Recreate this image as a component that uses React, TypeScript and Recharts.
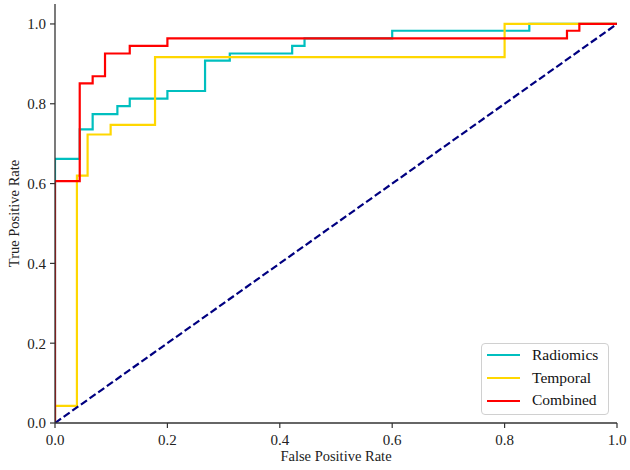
import React from 'react';
import { LineChart, Line, XAxis, YAxis, Legend } from 'recharts';

// ROC curve points (false positive rate, true positive rate)
const radiomicsFpr = [0, 0, 0.044, 0.044, 0.067, 0.067, 0.111, 0.111, 0.133, 0.133, 0.2, 0.2, 0.267, 0.267, 0.311, 0.311, 0.422, 0.422, 0.444, 0.444, 0.6, 0.6, 0.844, 0.844, 1.0];
const radiomicsTpr = [0, 0.662, 0.662, 0.736, 0.736, 0.774, 0.774, 0.794, 0.794, 0.813, 0.813, 0.832, 0.832, 0.908, 0.908, 0.926, 0.926, 0.945, 0.945, 0.964, 0.964, 0.983, 0.983, 1.0, 1.0];

const temporalFpr = [0, 0, 0.039, 0.039, 0.058, 0.058, 0.099, 0.099, 0.178, 0.178, 0.8, 0.8, 1.0];
const temporalTpr = [0, 0.043, 0.043, 0.62, 0.62, 0.723, 0.723, 0.747, 0.747, 0.917, 0.917, 1.0, 1.0];

const combinedFpr = [0, 0, 0.044, 0.044, 0.067, 0.067, 0.089, 0.089, 0.133, 0.133, 0.2, 0.2, 0.911, 0.911, 0.933, 0.933, 1.0];
const combinedTpr = [0, 0.606, 0.606, 0.851, 0.851, 0.869, 0.869, 0.926, 0.926, 0.945, 0.945, 0.964, 0.964, 0.983, 0.983, 1.0, 1.0];

const chanceFpr = [0, 1];
const chanceTpr = [0, 1];

const seriesNames = ['Radiomics', 'Temporal', 'Combined'];
const tickValues = [0, 0.2, 0.4, 0.6, 0.8, 1.0];

const zip = (xs: number[], ys: number[]) => xs.map((x, i) => ({ x, y: ys[i] }));

const radiomicsData = zip(radiomicsFpr, radiomicsTpr);
const temporalData = zip(temporalFpr, temporalTpr);
const combinedData = zip(combinedFpr, combinedTpr);
const chanceData = zip(chanceFpr, chanceTpr);

const FONT = "'Liberation Serif', 'Times New Roman', serif";
const AX = '#333333';

const LegendBox = (props: any) => {
  const payload = props.payload || [];
  const items = seriesNames
    .map((n) => payload.find((p: any) => p.value === n))
    .filter(Boolean);
  return (
    <div
      style={{
        width: 128,
        height: 72,
        boxSizing: 'border-box',
        border: '1px solid #d0d0d0',
        borderRadius: 4,
        background: 'rgba(255,255,255,0.85)',
        fontFamily: FONT,
        fontSize: 15.5,
        color: '#111',
      }}
    >
      {items.map((it: any) => (
        <div key={it.value} style={{ height: 22.7, display: 'flex', alignItems: 'center' }}>
          <div style={{ marginLeft: 5, width: 33, height: 2.2, background: it.color }} />
          <span style={{ marginLeft: 12, lineHeight: '22.7px', fontFamily: FONT }}>{it.value}</span>
        </div>
      ))}
    </div>
  );
};

const SerifTick = (props: any) => {
  const { x, y, payload, textAnchor, verticalAnchor } = props;
  const dy = verticalAnchor === 'start' ? '0.71em' : verticalAnchor === 'middle' ? '0.355em' : 0;
  return (
    <text x={x} y={y} dy={dy} textAnchor={textAnchor} fill="#222" style={{ fontFamily: FONT, fontSize: 15 }}>
      {Number(payload.value).toFixed(1)}
    </text>
  );
};

export default function App() {
  return (
    <div style={{ position: 'absolute', left: 0, top: 0, width: 630, height: 470, background: '#fff', fontFamily: FONT }}>
      <LineChart width={630} height={470} margin={{ top: 4, right: 13, left: 10, bottom: 7 }} style={{ fontFamily: FONT }}>
        <XAxis
          xAxisId={0}
          type="number"
          dataKey="x"
          domain={[0, 1]}
          ticks={tickValues}
          height={40}
          tickSize={5}
          tickMargin={6}
          allowDataOverflow
          axisLine={{ stroke: AX, strokeWidth: 1.3 }}
          tickLine={{ stroke: AX, strokeWidth: 1.2 }}
          tick={<SerifTick />}
          label={{ value: 'False Positive Rate', position: 'insideBottom', offset: 2, style: { fontFamily: FONT, fontSize: 14.5, fill: '#222' } }}
        />
        <XAxis
          xAxisId="top"
          orientation="top"
          type="number"
          domain={[0, 1]}
          height={0}
          tick={false}
          tickLine={false}
          axisLine={{ stroke: AX, strokeWidth: 1.3 }}
        />
        <YAxis
          yAxisId={0}
          type="number"
          domain={[0, 1.05]}
          ticks={tickValues}
          width={45}
          tickSize={5}
          tickMargin={4}
          allowDataOverflow
          axisLine={{ stroke: AX, strokeWidth: 1.3 }}
          tickLine={{ stroke: AX, strokeWidth: 1.2 }}
          tick={<SerifTick />}
          label={{ value: 'True Positive Rate', angle: -90, position: 'insideLeft', offset: 4, style: { textAnchor: 'middle', fontFamily: FONT, fontSize: 14.5, fill: '#222' } }}
        />
        <YAxis
          yAxisId="right"
          orientation="right"
          type="number"
          domain={[0, 1.05]}
          width={0}
          tick={false}
          tickLine={false}
          axisLine={{ stroke: AX, strokeWidth: 1.3 }}
        />
        <Line data={radiomicsData} dataKey="y" name="Radiomics" type="linear" stroke="#00bfbf" strokeWidth={2.2} dot={false} activeDot={false} isAnimationActive={false} />
        <Line data={temporalData} dataKey="y" name="Temporal" type="linear" stroke="#ffd700" strokeWidth={2.2} dot={false} activeDot={false} isAnimationActive={false} />
        <Line data={combinedData} dataKey="y" name="Combined" type="linear" stroke="#ff0000" strokeWidth={2.2} dot={false} activeDot={false} isAnimationActive={false} />
        <Line data={chanceData} dataKey="y" name="Chance" legendType="none" type="linear" stroke="#000080" strokeWidth={2.2} strokeDasharray="7.4 3.2" dot={false} activeDot={false} isAnimationActive={false} />
        <Legend
          layout="vertical"
          align="center"
          verticalAlign="middle"
          content={<LegendBox />}
          wrapperStyle={{ position: 'absolute', left: 481, top: 343, width: 128, height: 72 }}
        />
      </LineChart>
    </div>
  );
}
